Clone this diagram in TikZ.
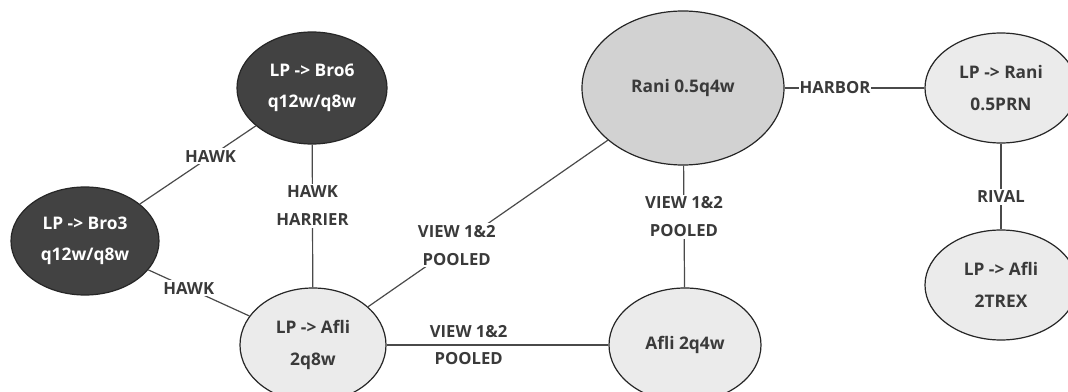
\documentclass[tikz,border=0pt]{standalone}
\usepackage{fontspec}
\setmainfont{Open Sans}
\usetikzlibrary{shapes.geometric}
\definecolor{ink}{HTML}{3A3A3A}
\definecolor{darkfill}{HTML}{424242}
\definecolor{midfill}{HTML}{D2D2D2}
\definecolor{lightfill}{HTML}{EBEBEB}
\definecolor{edgegray}{HTML}{4A4A4A}
\begin{document}
\begin{tikzpicture}[x=0.75pt,y=-0.75pt,
  nd/.style={ellipse, draw=black!85, line width=0.9pt, inner sep=0pt,
    align=center, text=ink, font=\bfseries\fontsize{13}{23.5}\selectfont},
  darknd/.style={nd, fill=darkfill, text=white},
  midnd/.style={nd, fill=midfill},
  lightnd/.style={nd, fill=lightfill},
  link/.style={draw=edgegray, line width=0.9pt},
  lbl/.style={fill=white, inner sep=1.5pt, align=center, text=ink,
    font=\bfseries\fontsize{12.5}{21}\selectfont},
  plain/.style={inner sep=5pt, text=ink, font=\bfseries\fontsize{12.5}{21}\selectfont}
]
\useasboundingbox (0,0) rectangle (1068,392);
\fill[white] (0,0) rectangle (1068,392);
\clip (0,0) rectangle (1068,392);

% nodes
\node[darknd, minimum width=112.5pt, minimum height=84pt] (bro6) at (312,88) {LP -> Bro6\\q12w/q8w};
\node[darknd, minimum width=111pt, minimum height=81pt] (bro3) at (85,241) {LP -> Bro3\\q12w/q8w};
\node[lightnd, minimum width=109.5pt, minimum height=85.5pt] (afli8) at (313,345) {LP -> Afli\\2q8w};
\node[midnd, minimum width=151.5pt, minimum height=115.5pt] (rani) at (683,88) {Rani 0.5q4w};
\node[lightnd, minimum width=114pt, minimum height=85.5pt] (afli4) at (685,345) {Afli 2q4w};
\node[lightnd, minimum width=114pt, minimum height=82.5pt] (ranilp) at (1001,88) {LP -> Rani\\0.5PRN};
\node[lightnd, minimum width=114pt, minimum height=82.5pt] (trex) at (1001,285) {LP -> Afli\\2TREX};

% connectors
\draw[link] (bro6) -- node[lbl, pos=0.39] {HAWK} (bro3);
\draw[link] (bro3) -- node[lbl, pos=0.4] {HAWK} (afli8);
\draw[link] (bro6) -- node[lbl, pos=0.43] {HAWK\\HARRIER} (afli8);
\draw[link] (afli8) -- node[lbl, pos=0.37] {VIEW 1\&2\\POOLED} (rani);
\draw[link] (afli8) -- node[plain, above, pos=0.37] {VIEW 1\&2}
                       node[plain, below, pos=0.37] {POOLED} (afli4);
\draw[link] (rani) -- node[lbl, pos=0.42] {VIEW 1\&2\\POOLED} (afli4);
\draw[link] (rani) -- node[lbl, pos=0.36, inner sep=0.5pt] {HARBOR} (ranilp);
\draw[link] (ranilp) -- node[lbl, pos=0.62] {RIVAL} (trex);
\end{tikzpicture}
\end{document}
